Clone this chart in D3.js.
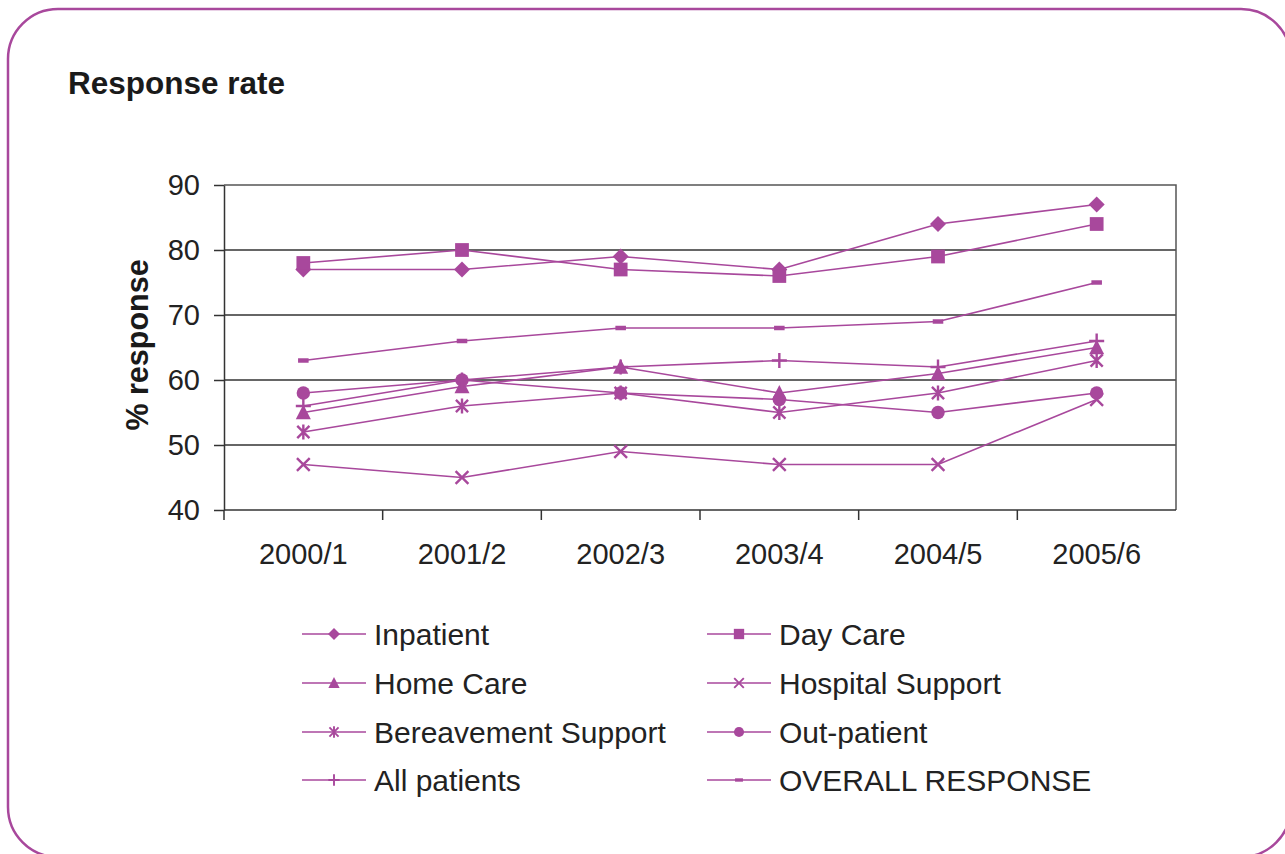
<!DOCTYPE html>
<html>
<head>
<meta charset="utf-8">
<script src="https://cdn.jsdelivr.net/npm/d3@7"></script>
<style>
  html, body { margin: 0; padding: 0; background: #fff; }
  svg { display: block; font-family: "Liberation Sans", Arial, Helvetica, sans-serif; }
</style>
</head>
<body>
<svg id="chart" width="1285" height="854"></svg>
<script>
// Survey response rates by service, 2000/1 to 2005/6
const years = ["2000/1", "2001/2", "2002/3", "2003/4", "2004/5", "2005/6"];
const yTicks = [40, 50, 60, 70, 80, 90];

const inpatient         = [77, 77, 79, 77, 84, 87];
const dayCare           = [78, 80, 77, 76, 79, 84];
const homeCare          = [55, 59, 62, 58, 61, 65];
const hospitalSupport   = [47, 45, 49, 47, 47, 57];
const bereavement       = [52, 56, 58, 55, 58, 63];
const outPatient        = [58, 60, 58, 57, 55, 58];
const allPatients       = [56, 60, 62, 63, 62, 66];
const overallResponse   = [63, 66, 68, 68, 69, 75];

const seriesNames  = ["Inpatient", "Day Care", "Home Care", "Hospital Support",
                      "Bereavement Support", "Out-patient", "All patients", "OVERALL RESPONSE"];
const seriesValues = [inpatient, dayCare, homeCare, hospitalSupport,
                      bereavement, outPatient, allPatients, overallResponse];
const seriesMarker = ["diamond", "square", "triangle", "x", "asterisk", "circle", "plus", "dash"];

const purple = "#a8489c";
const axisCol = "#333";

const svg = d3.select("#chart");

// rounded frame around the panel
svg.append("rect")
  .attr("x", 8).attr("y", 9)
  .attr("width", 1283).attr("height", 848)
  .attr("rx", 50).attr("ry", 50)
  .attr("fill", "none").attr("stroke", purple).attr("stroke-width", 2.5);

svg.append("text")
  .attr("x", 68).attr("y", 94)
  .attr("font-size", 31.5).attr("font-weight", "bold").attr("fill", "#1a1a1a")
  .text("Response rate");

const plot = { left: 224, right: 1176, top: 185, bottom: 510 };

const x = d3.scaleBand().domain(years).range([plot.left, plot.right]).padding(0);
const y = d3.scaleLinear().domain([40, 90]).range([plot.bottom, plot.top]);
const cx = d => x(d) + x.bandwidth() / 2;

// horizontal gridlines
svg.append("g").selectAll("line")
  .data(yTicks.filter(t => t > 40 && t < 90))
  .join("line")
  .attr("x1", plot.left).attr("x2", plot.right)
  .attr("y1", d => y(d)).attr("y2", d => y(d))
  .attr("stroke", axisCol).attr("stroke-width", 1.5);

// plot-area border (top and right)
svg.append("path")
  .attr("d", `M${plot.left},${plot.top}H${plot.right}V${plot.bottom}`)
  .attr("fill", "none").attr("stroke", "#555").attr("stroke-width", 1.5);

// y axis
const yAxis = svg.append("g")
  .attr("transform", `translate(${plot.left},0)`)
  .call(d3.axisLeft(y).tickValues(yTicks).tickSize(10).tickPadding(14).tickSizeOuter(0));
yAxis.select(".domain").attr("stroke", axisCol).attr("stroke-width", 1.5);
yAxis.selectAll(".tick line").attr("stroke", axisCol).attr("stroke-width", 1.5);
yAxis.selectAll(".tick text")
  .attr("font-size", 29).attr("fill", "#222")
  .attr("font-family", "Liberation Sans, Arial, sans-serif");

// x axis: boundary ticks between categories
const xAxisG = svg.append("g").attr("transform", `translate(0,${plot.bottom})`);
xAxisG.append("line")
  .attr("x1", plot.left).attr("x2", plot.right)
  .attr("stroke", axisCol).attr("stroke-width", 1.5);
xAxisG.selectAll("line.tk")
  .data(years)
  .join("line").attr("class", "tk")
  .attr("x1", d => x(d)).attr("x2", d => x(d))
  .attr("y1", 0).attr("y2", 10)
  .attr("stroke", axisCol).attr("stroke-width", 1.5);
xAxisG.selectAll("text")
  .data(years)
  .join("text")
  .attr("x", d => cx(d)).attr("y", 54)
  .attr("text-anchor", "middle")
  .attr("font-size", 29).attr("fill", "#222")
  .text(d => d);

// y axis title
svg.append("text")
  .attr("transform", "translate(148,345) rotate(-90)")
  .attr("text-anchor", "middle")
  .attr("font-size", 30.5).attr("font-weight", "bold").attr("fill", "#1a1a1a")
  .text("% response");

// marker drawing, s = nominal size in px
function drawMarker(g, type, px, py, s) {
  const h = s / 2;
  const sw = s > 12 ? 2.4 : 1.9;
  if (type === "diamond") {
    g.append("path").attr("d", `M${px},${py - h}L${px + h},${py}L${px},${py + h}L${px - h},${py}Z`)
      .attr("fill", purple);
  } else if (type === "square") {
    const a = s * 0.43;
    g.append("rect").attr("x", px - a).attr("y", py - a).attr("width", 2 * a).attr("height", 2 * a)
      .attr("fill", purple);
  } else if (type === "triangle") {
    const w = s * 0.47;
    g.append("path").attr("d", `M${px},${py - h}L${px + w},${py + h * 0.85}L${px - w},${py + h * 0.85}Z`)
      .attr("fill", purple);
  } else if (type === "circle") {
    g.append("circle").attr("cx", px).attr("cy", py).attr("r", s * 0.42).attr("fill", purple);
  } else if (type === "x") {
    const a = s * 0.4;
    g.append("path").attr("d", `M${px - a},${py - a}L${px + a},${py + a}M${px - a},${py + a}L${px + a},${py - a}`)
      .attr("stroke", purple).attr("stroke-width", sw).attr("fill", "none");
  } else if (type === "asterisk") {
    const a = s * 0.38;
    g.append("path").attr("d", `M${px - a},${py - a}L${px + a},${py + a}M${px - a},${py + a}L${px + a},${py - a}M${px},${py - a * 1.25}V${py + a * 1.25}`)
      .attr("stroke", purple).attr("stroke-width", sw).attr("fill", "none");
  } else if (type === "plus") {
    const a = s * 0.47;
    g.append("path").attr("d", `M${px - a},${py}H${px + a}M${px},${py - a}V${py + a}`)
      .attr("stroke", purple).attr("stroke-width", sw).attr("fill", "none");
  } else if (type === "dash") {
    const w = s * 0.33, t = s * 0.14;
    g.append("rect").attr("x", px - w).attr("y", py - t).attr("width", 2 * w).attr("height", 2 * t)
      .attr("fill", purple);
  }
}

// series: line then markers, drawn in order
const line = d3.line().x((d, i) => cx(years[i])).y(d => y(d));
seriesValues.forEach((vals, si) => {
  const g = svg.append("g");
  g.append("path").attr("d", line(vals))
    .attr("fill", "none").attr("stroke", purple).attr("stroke-width", 1.6);
  vals.forEach((v, i) => drawMarker(g, seriesMarker[si], cx(years[i]), y(v), 16));
});

// legend: two columns, four rows
const legendCols = [302, 707];
const legendRows = [634, 683, 732, 780];
seriesNames.forEach((name, i) => {
  const lx = legendCols[i % 2];
  const ly = legendRows[Math.floor(i / 2)];
  const g = svg.append("g");
  g.append("line").attr("x1", lx).attr("x2", lx + 64).attr("y1", ly).attr("y2", ly)
    .attr("stroke", purple).attr("stroke-width", 1.6);
  drawMarker(g, seriesMarker[i], lx + 32, ly, 12);
  g.append("text").attr("x", lx + 72).attr("y", ly + 10.5)
    .attr("font-size", 30).attr("fill", "#222").text(name);
});
</script>
</body>
</html>
